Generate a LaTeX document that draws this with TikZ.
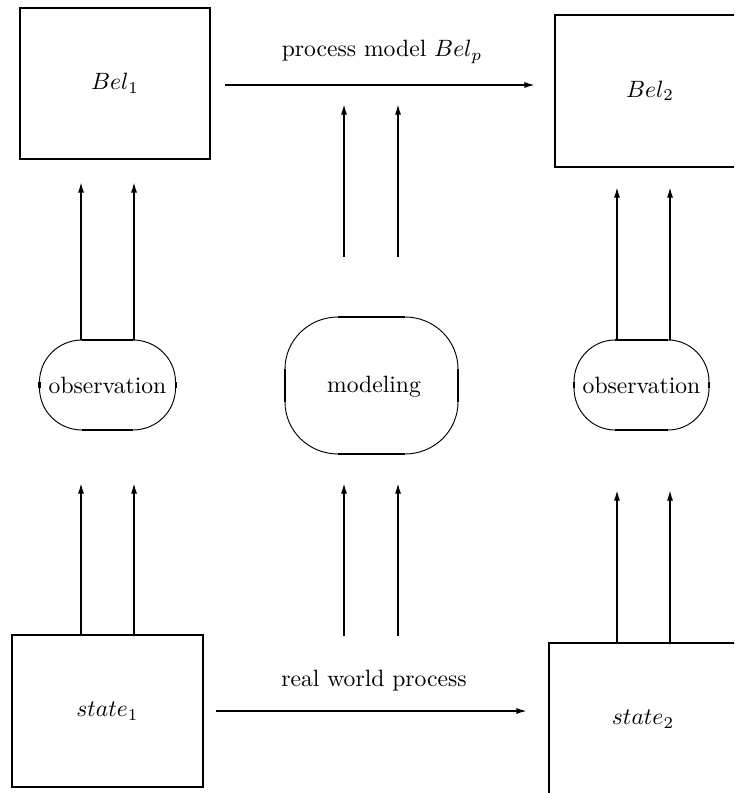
\documentclass[tikz,border=0pt]{standalone}
\usetikzlibrary{arrows.meta}
\tikzset{
  boxnode/.style={draw,line width=1.1pt,inner sep=0pt},
  arr/.style={line width=0.7pt,-{Latex[length=4.5pt,width=2.6pt]}},
  flatpart/.style={line width=0.85pt},
  curvepart/.style={line width=0.4pt},
}
% rounded outline: cx cy hw hh rx ry
\newcommand\myrshape[6]{%
  \pgfmathsetmacro\rsXl{#1-#3}\pgfmathsetmacro\rsXr{#1+#3}%
  \pgfmathsetmacro\rsYt{#2-#4}\pgfmathsetmacro\rsYb{#2+#4}%
  \pgfmathsetmacro\rsXa{#1-#3+#5}\pgfmathsetmacro\rsXb{#1+#3-#5}%
  \pgfmathsetmacro\rsYa{#2-#4+#6}\pgfmathsetmacro\rsYc{#2+#4-#6}%
  \pgfmathsetmacro\rsXak{\rsXa-0.5523*#5}\pgfmathsetmacro\rsXbk{\rsXb+0.5523*#5}%
  \pgfmathsetmacro\rsYak{\rsYa-0.5523*#6}\pgfmathsetmacro\rsYck{\rsYc+0.5523*#6}%
  \draw[flatpart] (\rsXa,\rsYt) -- (\rsXb,\rsYt) (\rsXr,\rsYa) -- (\rsXr,\rsYc)
    (\rsXb,\rsYb) -- (\rsXa,\rsYb) (\rsXl,\rsYc) -- (\rsXl,\rsYa);
  \draw[curvepart] (\rsXb,\rsYt) .. controls (\rsXbk,\rsYt) and (\rsXr,\rsYak) .. (\rsXr,\rsYa)
    (\rsXr,\rsYc) .. controls (\rsXr,\rsYck) and (\rsXbk,\rsYb) .. (\rsXb,\rsYb)
    (\rsXa,\rsYb) .. controls (\rsXak,\rsYb) and (\rsXl,\rsYck) .. (\rsXl,\rsYc)
    (\rsXl,\rsYa) .. controls (\rsXl,\rsYak) and (\rsXak,\rsYt) .. (\rsXa,\rsYt);
}
\begin{document}
\begin{tikzpicture}[x=0.4237pt,y=-0.4237pt]
\clip (0,0) rectangle (734,793);
% boxes
\node[boxnode,minimum width={190*0.4237pt},minimum height={151*0.4237pt}] (bel1) at (115,83.5) {$Bel_1$};
\node[boxnode,minimum width={190*0.4237pt},minimum height={152*0.4237pt}] (bel2) at (650,91) {$Bel_2$};
\node[boxnode,minimum width={191*0.4237pt},minimum height={152*0.4237pt}] (st1) at (107.5,711) {$state_1$};
\node[boxnode,minimum width={188*0.4237pt},minimum height={152*0.4237pt}] (st2) at (643,719) {$state_2$};
% rounded shapes
\myrshape{107.5}{385}{68}{45}{42.5}{42}
\myrshape{641.5}{385}{67.5}{45}{41}{42}
\myrshape{371.5}{385.5}{86.5}{68.5}{53}{52}
\node (obs1) at (107.5,385) {observation};
\node (obs2) at (641.5,385) {observation};
\node (model) at (374,387) {modeling};
% labels
\node[anchor=base] (pmlabel) at (382,57) {process model $Bel_p$};
\node[anchor=base] (rwlabel) at (374,686) {real world process};
% horizontal arrows
\coordinate (pmA) at (225,85); \coordinate (pmB) at (535,85);
\coordinate (rwA) at (216,711); \coordinate (rwB) at (527,711);
\draw[arr] (pmA) -- (pmB);
\draw[arr] (rwA) -- (rwB);
% left column
\coordinate (l1s) at (81,340);  \coordinate (l1e) at (81,182);
\coordinate (l2s) at (134,340); \coordinate (l2e) at (134,182);
\coordinate (l3s) at (81,635);  \coordinate (l3e) at (81,483);
\coordinate (l4s) at (134,635); \coordinate (l4e) at (134,483);
% middle column
\coordinate (m1s) at (344,257); \coordinate (m1e) at (344,104);
\coordinate (m2s) at (398,257); \coordinate (m2e) at (398,104);
\coordinate (m3s) at (344,636); \coordinate (m3e) at (344,483);
\coordinate (m4s) at (398,636); \coordinate (m4e) at (398,483);
% right column
\coordinate (r1s) at (617,340); \coordinate (r1e) at (617,187);
\coordinate (r2s) at (670,340); \coordinate (r2e) at (670,187);
\coordinate (r3s) at (617,643); \coordinate (r3e) at (617,490);
\coordinate (r4s) at (670,643); \coordinate (r4e) at (670,490);
\foreach \c in {l1,l2,l3,l4,m1,m2,m3,m4,r1,r2,r3,r4}
  \draw[arr] (\c s) -- (\c e);
\end{tikzpicture}
\end{document}
